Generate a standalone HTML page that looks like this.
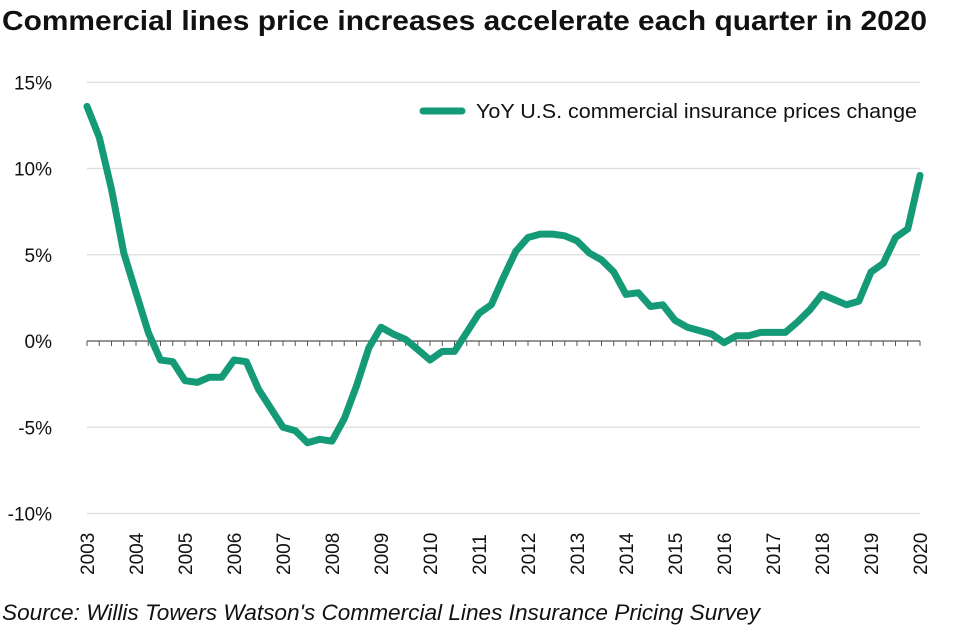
<!DOCTYPE html>
<html><head><meta charset="utf-8"><style>
body{margin:0;background:#fff;width:959px;height:633px;overflow:hidden;font-family:"Liberation Sans",sans-serif}
</style></head><body>
<svg width="959" height="633" xmlns="http://www.w3.org/2000/svg">
<text x="2" y="30" font-size="28" font-weight="bold" fill="#111" textLength="925" lengthAdjust="spacingAndGlyphs">Commercial lines price increases accelerate each quarter in 2020</text>
<g id="grid"></g>
<g id="ylab"></g>
<g id="xlab"></g>
<g id="axis"></g>
<path id="line" fill="none" stroke="#159a78" stroke-width="7" stroke-linejoin="round" stroke-linecap="round"/>
<g>
<line x1="423" y1="111" x2="462" y2="111" stroke="#159a78" stroke-width="7" stroke-linecap="round"/>
<text x="476" y="118" font-size="20" fill="#111" textLength="441" lengthAdjust="spacingAndGlyphs">YoY U.S. commercial insurance prices change</text>
</g>
<text x="2" y="620" font-size="22" font-style="italic" fill="#111" textLength="758" lengthAdjust="spacingAndGlyphs">Source: Willis Towers Watson's Commercial Lines Insurance Pricing Survey</text>
</svg>
<script>
const years=[2003,2004,2005,2006,2007,2008,2009,2010,2011,2012,2013,2014,2015,2016,2017,2018,2019,2020];
const yTicks=[15,10,5,0,-5,-10];
const values=[13.6,11.8,8.8,5.1,2.8,0.5,-1.1,-1.2,-2.3,-2.4,-2.1,-2.1,-1.1,-1.2,-2.8,-3.9,-5.0,-5.2,-5.9,-5.7,-5.8,-4.5,-2.6,-0.4,0.8,0.4,0.1,-0.5,-1.1,-0.6,-0.6,0.5,1.6,2.1,3.7,5.2,6.0,6.2,6.2,6.1,5.8,5.1,4.7,4.0,2.7,2.8,2.0,2.1,1.2,0.8,0.6,0.4,-0.1,0.3,0.3,0.5,0.5,0.5,1.1,1.8,2.7,2.4,2.1,2.3,4.0,4.5,6.0,6.5,9.6];
const NS="http://www.w3.org/2000/svg";
const x0=87,x1=920,n=values.length;
const xq=i=>x0+(x1-x0)*i/(n-1);
const yv=v=>341-v*17.25;
const grid=document.getElementById('grid'),ylab=document.getElementById('ylab'),xlab=document.getElementById('xlab'),axis=document.getElementById('axis');
yTicks.forEach(t=>{
 if(t!==0){const l=document.createElementNS(NS,'line');
 l.setAttribute('x1',x0);l.setAttribute('x2',x1);l.setAttribute('y1',yv(t));l.setAttribute('y2',yv(t));
 l.setAttribute('stroke','#dcdcdc');l.setAttribute('stroke-width','1.3');
 
 
 grid.appendChild(l);}
 const tx=document.createElementNS(NS,'text');
 tx.setAttribute('x',52);tx.setAttribute('y',yv(t)+7);tx.setAttribute('text-anchor','end');tx.setAttribute('font-size','19');tx.setAttribute('fill','#111');
 tx.textContent=t+'%';
 
 
 ylab.appendChild(tx);
});
const ax=document.createElementNS(NS,'line');
ax.setAttribute('x1',x0);ax.setAttribute('x2',x1);ax.setAttribute('y1',yv(0));ax.setAttribute('y2',yv(0));ax.setAttribute('stroke','#555');ax.setAttribute('stroke-width','1.3');


axis.appendChild(ax);
for(let i=0;i<n;i++){const t=document.createElementNS(NS,'line');
 t.setAttribute('x1',xq(i));t.setAttribute('x2',xq(i));t.setAttribute('y1',yv(0));t.setAttribute('y2',yv(0)+5);t.setAttribute('stroke','#555');
 
 
 axis.appendChild(t);}
years.forEach((y,k)=>{const x=xq(k*4);
 const tx=document.createElementNS(NS,'text');
 tx.setAttribute('transform','translate('+(x+7)+',575) rotate(-90)');tx.setAttribute('font-size','19');tx.setAttribute('fill','#111');
 tx.textContent=y;
 
 
 xlab.appendChild(tx);});
document.getElementById('line').setAttribute('d',values.map((v,i)=>(i?'L':'M')+xq(i).toFixed(1)+','+yv(v).toFixed(1)).join(''));
</script>
</body></html>
